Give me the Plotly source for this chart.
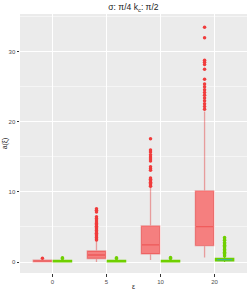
import plotly.graph_objects as go

categories = ['0', '5', '10', '20']

# red series box statistics
red_q1 = [0.02, 0.50, 1.15, 2.35]
red_median = [0.10, 1.00, 2.45, 5.05]
red_q3 = [0.25, 1.57, 5.15, 10.15]
red_lower = [0.0, 0.0, 0.30, 0.65]
red_upper = [0.45, 3.10, 10.70, 21.50]
red_outliers = [
    [0.55],
    [7.6, 7.4, 7.15, 6.45, 6.2, 6.0, 5.7, 5.5, 5.3, 5.1, 4.9, 4.7, 4.5, 4.3, 4.1, 3.9, 3.7, 3.5, 3.3, 3.15],
    [17.6, 16.0, 15.7, 15.3, 15.0, 14.7, 14.4, 13.6, 13.3, 13.1, 12.0, 11.8, 11.6, 11.4, 11.2, 11.0, 10.8],
    [33.5, 32.0, 28.8, 28.5, 28.2, 27.5, 26.1, 25.4, 25.0, 24.6, 24.2, 23.8, 23.4, 23.0, 22.6, 22.2, 21.8],
]

# green series box statistics
green_q1 = [0.02, 0.02, 0.02, 0.14]
green_median = [0.10, 0.10, 0.10, 0.33]
green_q3 = [0.22, 0.22, 0.22, 0.53]
green_lower = [0.0, 0.0, 0.0, 0.0]
green_upper = [0.40, 0.40, 0.40, 0.72]
green_outliers = [
    [0.5, 0.6],
    [0.5, 0.6],
    [0.5, 0.65],
    [3.5, 3.3, 3.1, 2.8, 2.6, 2.4, 2.2, 2.0, 1.8, 1.6, 1.4, 1.2, 1.0, 0.85],
]
# category whose green median line shows up (teal) in the picture
green_median_visible = ['20']

OFF = 0.185
BW = 0.34
RED_FILL = 'rgba(255,20,20,0.5)'
RED_LINE = 'rgba(225,30,30,0.38)'
RED_PT = '#F03C3C'
GREEN = '#6FCF00'
TEAL = '#3AB59A'
FONT = 'Liberation Sans, Arial, sans-serif'

idx = list(range(len(categories)))
fig = go.Figure()

fig.add_trace(go.Box(
    x=[i - OFF for i in idx], q1=red_q1, median=red_median, q3=red_q3,
    lowerfence=red_lower, upperfence=red_upper, width=BW,
    fillcolor=RED_FILL, line=dict(color=RED_LINE, width=1.3),
    whiskerwidth=0, boxpoints=False, showlegend=False, hoverinfo='skip'))
fig.add_trace(go.Box(
    x=[i + OFF for i in idx], q1=green_q1, median=green_median, q3=green_q3,
    lowerfence=green_lower, upperfence=green_upper, width=BW,
    fillcolor=GREEN, line=dict(color=GREEN, width=1.2),
    whiskerwidth=0, boxpoints=False, showlegend=False, hoverinfo='skip'))

# teal median segment on visible green boxes
mx, my = [], []
for c in green_median_visible:
    i = categories.index(c)
    mx += [i + OFF - BW / 2 + 0.03, i + OFF + BW / 2 - 0.03, None]
    my += [green_median[i], green_median[i], None]
fig.add_trace(go.Scatter(x=mx, y=my, mode='lines', line=dict(color=TEAL, width=1.2),
                         showlegend=False, hoverinfo='skip'))

rx, ry = [], []
for i, pts in zip(idx, red_outliers):
    rx += [i - OFF] * len(pts)
    ry += pts
gx, gy = [], []
for i, pts in zip(idx, green_outliers):
    gx += [i + OFF] * len(pts)
    gy += pts

fig.add_trace(go.Scatter(x=rx, y=ry, mode='markers',
                         marker=dict(color=RED_PT, size=3.5, line=dict(width=0)),
                         showlegend=False, hoverinfo='skip'))
fig.add_trace(go.Scatter(x=gx, y=gy, mode='markers',
                         marker=dict(color=GREEN, size=3.5, line=dict(width=0)),
                         showlegend=False, hoverinfo='skip'))

tickfont = dict(family=FONT, size=6, color='#4D4D4D')
fig.update_layout(
    width=249, height=291,
    margin=dict(l=20, r=2, t=14, b=18),
    paper_bgcolor='white', plot_bgcolor='#EBEBEB',
    title=dict(text='σ: π/4 k<sub>c</sub>: π/2', x=0.536, xanchor='center',
               y=0.975, yanchor='middle', automargin=False,
               font=dict(family=FONT, size=8.5, color='#222')),
    xaxis=dict(range=[-0.6, 3.6], tickmode='array', tickvals=idx, ticktext=categories,
               showgrid=True, gridcolor='white', gridwidth=1, zeroline=False,
               ticks='outside', ticklen=2.5, tickcolor='#333', tickwidth=0.8,
               tickfont=tickfont, automargin=False,
               title=dict(text='ε', standoff=0,
                          font=dict(family=FONT, size=7, color='#222'))),
    yaxis=dict(range=[-1.57, 35.4], tickvals=[0, 10, 20, 30],
               showgrid=True, gridcolor='white', gridwidth=1, zeroline=False,
               minor=dict(tickvals=[5, 15, 25, 35], showgrid=True, gridcolor='#F5F5F5', gridwidth=0.5, ticks=''),
               ticks='outside', ticklen=2.5, tickcolor='#333', tickwidth=0.8,
               tickfont=tickfont, automargin=False,
               title=dict(text='a(ξ)', standoff=0,
                          font=dict(family=FONT, size=7, color='#222'))),
)

fig.write_html('out.html', config={'displayModeBar': False},
               post_script="document.body.style.margin='0';document.body.style.padding='0';")
